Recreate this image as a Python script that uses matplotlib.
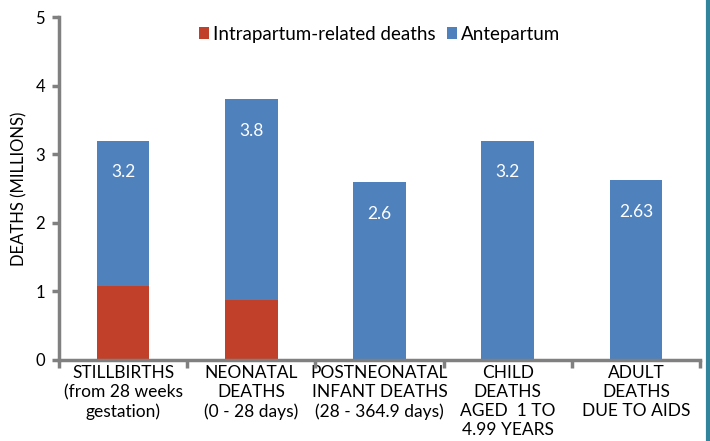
import numpy as np
import matplotlib.pyplot as plt
from matplotlib.lines import Line2D

plt.rcParams['font.family'] = ['Lato', 'DejaVu Sans']

#-------------------------------
# DATA
#-------------------------------
categories = ["STILLBIRTHS\n(from 28 weeks\ngestation)",
              "NEONATAL\nDEATHS\n(0 - 28 days)",
              "POSTNEONATAL\nINFANT DEATHS\n(28 - 364.9 days)",
              "CHILD\nDEATHS\nAGED  1 TO\n4.99 YEARS",
              "ADULT\nDEATHS\nDUE TO AIDS"]
intrapartum = [1.08, 0.88, 0.0, 0.0, 0.0]
totals = [3.2, 3.8, 2.6, 3.2, 2.63]
total_labels = ["3.2", "3.8", "2.6", "3.2", "2.63"]
antepartum = [t - i for t, i in zip(totals, intrapartum)]

red = "#C0402A"
blue = "#4F81BD"
grey = "#808080"

fig = plt.figure(figsize=(7.1, 4.41), dpi=100)
ax = fig.add_axes([0.083, 0.184, 0.903, 0.777])

x = np.arange(len(categories))
w = 0.41
ax.bar(x, intrapartum, w, color=red, label="Intrapartum-related deaths")
ax.bar(x, antepartum, w, bottom=intrapartum, color=blue, label="Antepartum")

for xi, t, lab in zip(x, totals, total_labels):
	ax.annotate(lab, (xi, t), xytext=(0, -23), textcoords="offset points",
				ha="center", va="center", color="white", fontsize=12.5)

ax.set_xlim(-0.5, 4.5)
ax.set_ylim(0, 5)
ax.set_yticks(range(6))
ax.set_xticks(x)
ax.set_xticklabels(categories, fontsize=12.5, linespacing=1.22)
ax.set_xticks(np.arange(-0.5, 5, 1), minor=True)
ax.tick_params(axis="x", which="major", length=0, pad=4)
ax.tick_params(axis="x", which="minor", length=6, width=2.5, color=grey, direction="out")
ax.tick_params(axis="y", length=5, width=2.5, color=grey, labelsize=12, pad=5)

for s in ["top", "right"]:
	ax.spines[s].set_visible(False)
for s in ["left", "bottom"]:
	ax.spines[s].set_color(grey)
	ax.spines[s].set_linewidth(2.5)

ax.set_ylabel("DEATHS (MILLIONS)", fontsize=12, labelpad=6)

ax.legend(loc="upper center", bbox_to_anchor=(0.5, 1.025), ncol=2, frameon=False,
		  fontsize=13.5, handlelength=0.55, handleheight=0.55, handletextpad=0.2,
		  columnspacing=0.6)

fig.add_artist(Line2D([0.997, 0.997], [0, 1], color="#31849B", lw=3,
					  transform=fig.transFigure))

fig.savefig("out.png", dpi=100)
